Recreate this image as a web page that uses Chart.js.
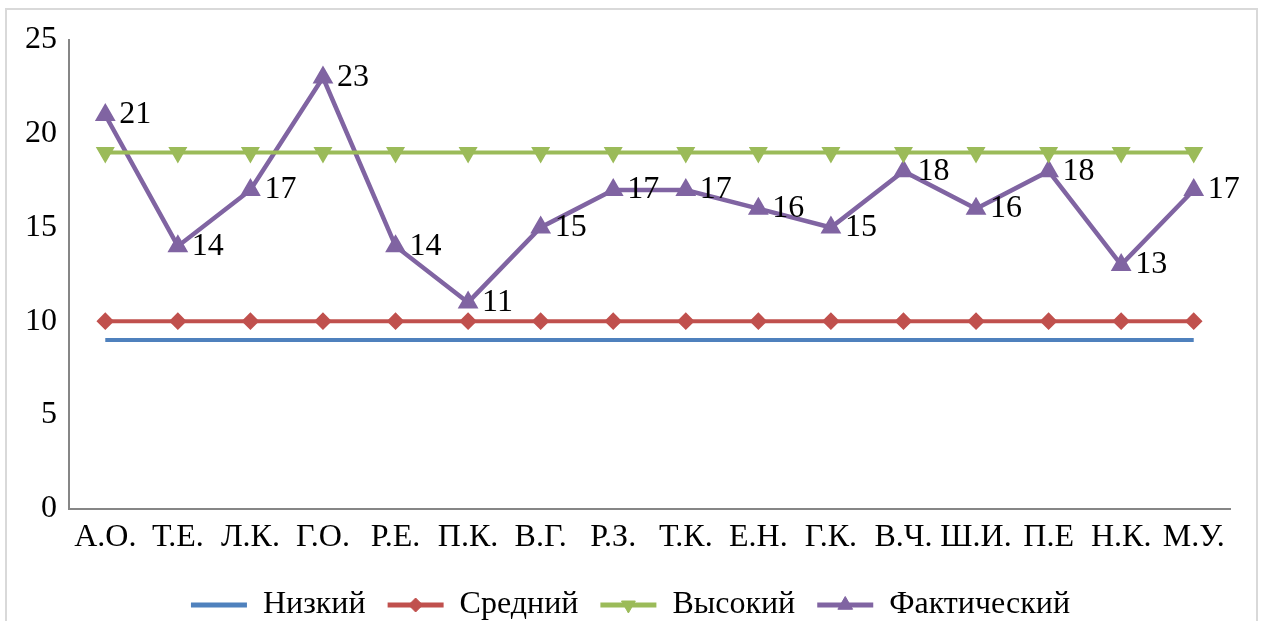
<!DOCTYPE html>
<html>
<head>
<meta charset="utf-8">
<script src="https://cdn.jsdelivr.net/npm/chart.js@4/dist/chart.umd.min.js"></script>
<style>
  html, body { margin: 0; padding: 0; background: #fff; }
  #frame { position: absolute; left: 5px; top: 8px; width: 1249px; height: 640px; border: 2px solid #d9d9d9; }
  #wrap { position: absolute; left: 0; top: 0; width: 1263px; height: 621px; }
</style>
</head>
<body>
<div id="frame"></div>
<div id="wrap"><canvas id="chart"></canvas></div>
<script>
// data
const names = ["А.О.", "Т.Е.", "Л.К.", "Г.О.", "Р.Е.", "П.К.", "В.Г.", "Р.З.", "Т.К.", "Е.Н.", "Г.К.", "В.Ч.", "Ш.И.", "П.Е", "Н.К.", "М.У."];
const low = [9, 9, 9, 9, 9, 9, 9, 9, 9, 9, 9, 9, 9, 9, 9, 9];
const mid = [10, 10, 10, 10, 10, 10, 10, 10, 10, 10, 10, 10, 10, 10, 10, 10];
const high = [19, 19, 19, 19, 19, 19, 19, 19, 19, 19, 19, 19, 19, 19, 19, 19];
const actual = [21, 14, 17, 23, 14, 11, 15, 17, 17, 16, 15, 18, 16, 18, 13, 17];

const serif = "'Liberation Serif', 'Times New Roman', serif";
const fontSize = 32;

//labels next to the purple points
const valueLabels = {
  id: "valueLabels",
  afterDatasetsDraw(chart) {
    const ctx = chart.ctx;
    const meta = chart.getDatasetMeta(3);
    ctx.save();
    ctx.font = fontSize + "px " + serif;
    ctx.fillStyle = "#000";
    ctx.textBaseline = "middle";
    ctx.textAlign = "left";
    meta.data.forEach((pt, i) => {
      ctx.fillText(actual[i], pt.x + 14, pt.y);
    });
    ctx.restore();
  }
};

//legend sits a bit lower and further right than chart.js puts it
const legendShift = {
  id: "legendShift",
  afterLayout(chart) {
    chart.legend.top += 8;
    chart.legend.bottom += 8;
    chart.legend.left += 5;
    chart.legend.right += 5;
  }
};

//put the marker on top of the legend line
const legendMarkers = {
  id: "legendMarkers",
  afterDraw(chart) {
    const lg = chart.legend;
    if (!lg || !lg.legendHitBoxes) return;
    const ctx = chart.ctx;
    const bw = lg.options.labels.boxWidth;
    lg.legendHitBoxes.forEach((box, i) => {
      const ds = chart.data.datasets[i];
      if (ds.pointStyle === false) return;
      ctx.save();
      ctx.fillStyle = ds.borderColor;
      ctx.strokeStyle = ds.borderColor;
      Chart.helpers.drawPoint(ctx, {
        pointStyle: ds.pointStyle,
        rotation: ds.pointRotation || 0,
        radius: ds.pointRadius + 1,
        borderWidth: 1
      }, box.left + bw / 2, box.top + box.height / 2);
      ctx.restore();
    });
  }
};

const ctx = document.getElementById("chart");
new Chart(ctx, {
  type: "line",
  data: {
    labels: names,
    datasets: [
      { label: "Низкий", data: low, borderColor: "#4F81BD", backgroundColor: "#4F81BD", borderWidth: 4, pointRadius: 0, pointStyle: false },
      { label: "Средний", data: mid, borderColor: "#C0504D", backgroundColor: "#C0504D", borderWidth: 4, pointStyle: "rectRot", pointRadius: 6 },
      { label: "Высокий", data: high, borderColor: "#9BBB59", backgroundColor: "#9BBB59", borderWidth: 4, pointStyle: "triangle", pointRotation: 180, pointRadius: 7 },
      { label: "Фактический", data: actual, borderColor: "#8064A2", backgroundColor: "#8064A2", borderWidth: 4.5, pointStyle: "triangle", pointRadius: 7.5 }
    ]
  },
  options: {
    responsive: true,
    maintainAspectRatio: false,
    animation: false,
    elements: { line: { tension: 0 }, point: { borderWidth: 1 } },
    layout: { padding: { left: 21, right: 33, top: 40, bottom: -2 } },
    plugins: {
      tooltip: { enabled: false },
      legend: {
        position: "bottom",
        labels: {
          font: { family: serif, size: fontSize },
          color: "#000",
          boxWidth: 56,
          boxHeight: 5,
          padding: 22,
          generateLabels(chart) {
            return chart.data.datasets.map((ds, i) => ({
              text: ds.label,
              fillStyle: ds.borderColor,
              strokeStyle: ds.borderColor,
              lineWidth: 0,
              datasetIndex: i
            }));
          }
        }
      }
    },
    scales: {
      x: {
        offset: true,
        grid: { display: false, offset: true },
        border: { display: true, color: "#868686", width: 2 },
        ticks: { font: { family: serif, size: fontSize }, color: "#000", padding: 2, maxRotation: 0, autoSkip: false }
      },
      y: {
        min: 0,
        max: 25,
        grid: { display: false },
        border: { display: true, color: "#868686", width: 2 },
        ticks: { stepSize: 5, font: { family: serif, size: fontSize }, color: "#000", padding: 4 }
      }
    }
  },
  plugins: [valueLabels, legendShift, legendMarkers]
});
</script>
</body>
</html>
